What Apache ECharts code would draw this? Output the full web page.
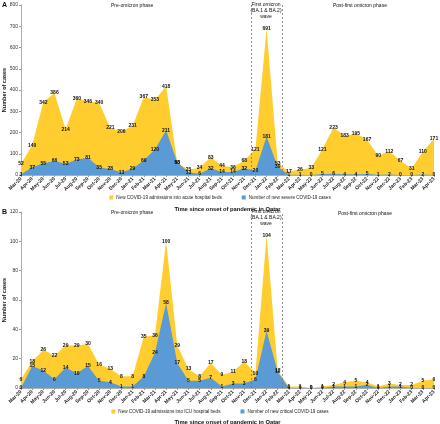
<!DOCTYPE html>
<html><head><meta charset="utf-8">
<script src="https://cdn.jsdelivr.net/npm/echarts@6/dist/echarts.min.js"></script>
<style>html,body{margin:0;padding:0;background:#fff}#c{width:440px;height:424px}</style>
</head><body><div id="c"></div>
<script>
const months = ["Mar-20","Apr-20","May-20","Jun-20","Jul-20","Aug-20","Sep-20","Oct-20","Nov-20","Dec-20","Jan-21","Feb-21","Mar-21","Apr-21","May-21","Jun-21","Jul-21","Aug-21","Sep-21","Oct-21","Nov-21","Dec-21","Jan-22","Feb-22","Mar-22","Apr-22","May-22","Jun-22","Jul-22","Aug-22","Sep-22","Oct-22","Nov-22","Dec-22","Jan-23","Feb-23","Mar-23","Apr-23"];
const acuteAdmissions = [52,140,342,386,214,360,346,340,221,206,231,367,353,418,58,25,34,83,44,36,68,121,691,53,17,26,33,121,223,183,195,167,90,112,67,31,110,171];
const severeCases = [3,37,55,66,53,73,81,35,28,13,29,69,120,211,60,13,6,32,14,14,32,20,181,39,1,1,0,5,6,4,4,5,1,2,0,0,2,0];
const icuAdmissions = [6,18,26,22,29,29,30,16,13,8,8,35,36,100,29,13,8,17,9,11,18,10,104,12,1,1,0,1,2,4,5,4,1,3,2,2,5,6];
const criticalCases = [0,15,12,6,14,10,15,5,4,1,1,8,24,58,17,5,5,7,1,3,3,6,39,11,0,0,0,0,1,1,1,2,0,1,1,0,0,0];
const phaseBoundaries = [20.6, 23.4];
const yTicksA = {min:0, max:800, interval:100};
const yTicksB = {min:0, max:120, interval:20};

const YEL = '#FFCE2E', BLUE = '#5B9BD5';
const chart = echarts.init(document.getElementById('c'), null, {renderer:'canvas'});
const F = 'Liberation Sans, Arial, sans-serif';

function catAxis(gi){
  return {type:'category', gridIndex:gi, data:months, boundaryGap:false,
    axisLine:{lineStyle:{color:'#999', width:0.8}}, axisTick:{show:true, length:2, lineStyle:{color:'#999'}},
    axisLabel:{rotate:45, fontSize:5, fontWeight:'bold', color:'#222', margin:3, interval:0, fontFamily:F},
    name:'Time since onset of pandemic in Qatar', nameLocation:'middle', nameGap:31,
    nameTextStyle:{fontSize:5.8, fontWeight:'bold', color:'#111', fontFamily:F}};
}
function hidAxis(gi){
  return {type:'value', gridIndex:gi, min:0, max:months.length-1, show:false};
}
function valAxis(gi, t){
  return {type:'value', gridIndex:gi, min:t.min, max:t.max, interval:t.interval,
    splitLine:{show:false}, axisLine:{show:true, lineStyle:{color:'#999', width:0.8}},
    axisTick:{show:true, length:2, lineStyle:{color:'#999'}},
    axisLabel:{fontSize:5, color:'#333', margin:3, fontFamily:F},
    name:'Number of cases', nameLocation:'middle', nameGap:14, nameMoveOverlap:false,
    nameTextStyle:{fontSize:5.5, fontWeight:'bold', color:'#111', fontFamily:F}};
}
function area(name, data, xi, yi, color){
  return {name, type:'line', xAxisIndex:xi, yAxisIndex:yi, data, symbol:'circle', symbolSize:0.5, showSymbol:true, showAllSymbol:true, smooth:false,
    lineStyle:{width:0, color}, itemStyle:{color}, areaStyle:{color, opacity:1},
    label:{show:true, position:'inside', offset:[0,2], fontSize:5, fontWeight:'bold', color:'#111', fontFamily:F},
    labelLayout:{hideOverlap:false},
    animation:false};
}
function dashes(xi, yi){
  return {type:'line', xAxisIndex:xi, yAxisIndex:yi, data:[], silent:true,
    markLine:{symbol:'none', silent:true, label:{show:false},
      lineStyle:{type:[2,2], color:'#777', width:0.8},
      data: phaseBoundaries.map(v=>({xAxis:v}))}, animation:false};
}
const legendText = {fontSize:4.6, color:'#222', fontFamily:F, padding:[0,0,0,-2]};

chart.setOption({
  animation:false,
  grid:[{left:21, right:6, top:5, height:170, containLabel:false, outerBoundsMode:'none'},
        {left:21, right:6, top:212, height:176, containLabel:false, outerBoundsMode:'none'}],
  xAxis:[catAxis(0), catAxis(1), hidAxis(0), hidAxis(1)],
  yAxis:[valAxis(0, yTicksA), valAxis(1, yTicksB)],
  legend:[
    {data:['New COVID-19 admissions into acute hospital beds','Number of new severe COVID-19 cases'], top:190, left:'center', itemWidth:4, itemHeight:4, itemGap:20, icon:'rect', textStyle:legendText},
    {data:['New COVID-19 admissions into ICU hospital beds','Number of new critical COVID-19 cases'], top:404, left:'center', itemWidth:4, itemHeight:4, itemGap:20, icon:'rect', textStyle:legendText}
  ],
  series:[
    area('New COVID-19 admissions into acute hospital beds', acuteAdmissions, 0, 0, YEL),
    area('Number of new severe COVID-19 cases', severeCases, 0, 0, BLUE),
    area('New COVID-19 admissions into ICU hospital beds', icuAdmissions, 1, 1, YEL),
    area('Number of new critical COVID-19 cases', criticalCases, 1, 1, BLUE),
    dashes(2, 0), dashes(3, 1)
  ],
  graphic:[
    {type:'text', left:2, top:2, style:{text:'A', font:'bold 7px '+F, fill:'#111'}},
    {type:'text', left:2, top:209, style:{text:'B', font:'bold 7px '+F, fill:'#111'}},
    {type:'text', left:111, top:3, style:{text:'Pre-omicron phase', font:'5px '+F, fill:'#111'}},
    {type:'text', x:266, y:2, style:{text:'First omicron\n(BA.1 & BA.2)\nwave', font:'5px '+F, fill:'#111', align:'center', verticalAlign:'top', lineHeight:6}},
    {type:'text', left:333, top:3, style:{text:'Post-first omicron phase', font:'5px '+F, fill:'#111'}},
    {type:'text', left:111, top:210, style:{text:'Pre-omicron phase', font:'5px '+F, fill:'#111'}},
    {type:'text', x:266, y:209, style:{text:'First omicron\n(BA.1 & BA.2)\nwave', font:'5px '+F, fill:'#111', align:'center', verticalAlign:'top', lineHeight:6}},
    {type:'text', left:338, top:211, style:{text:'Post-first omicron phase', font:'5px '+F, fill:'#111'}}
  ]
});
</script></body></html>
